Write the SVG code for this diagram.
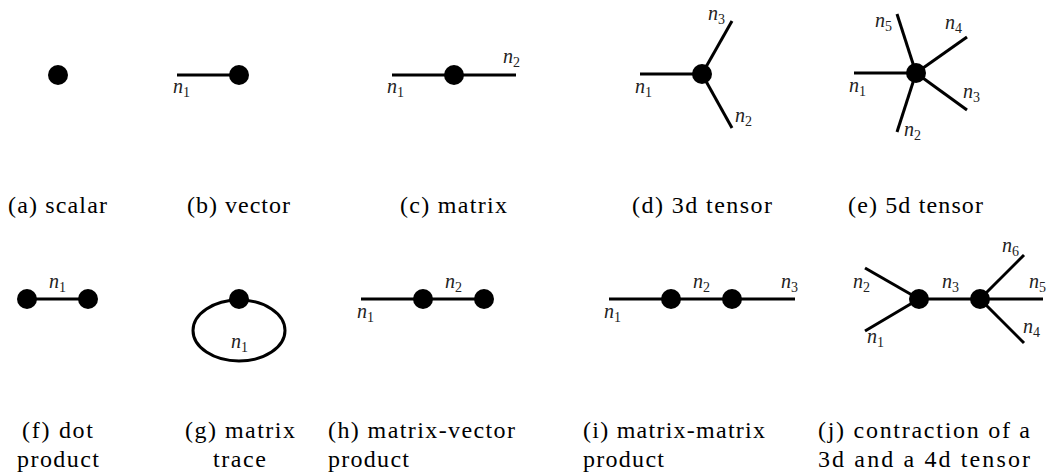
<svg xmlns="http://www.w3.org/2000/svg" width="1047" height="472" viewBox="0 0 1047 472">
<style>
.e{stroke:#000;stroke-width:3;fill:none;stroke-linecap:butt}
.d{fill:#000}
.lab{font-family:"Liberation Serif",Tinos,"Noto Serif","DejaVu Serif","Times New Roman",Times,serif;font-size:20px;font-style:italic;fill:#222}
.sub{font-size:14px;font-style:normal}
.cap{font-family:"Liberation Serif",Tinos,"Noto Serif","DejaVu Serif","Times New Roman",Times,serif;font-size:24px;fill:#000}
</style>
<rect width="1047" height="472" fill="#fff"/>
<g id="connectors">
<line class="e" x1="177" y1="75" x2="239" y2="75"/>
<line class="e" x1="392" y1="75" x2="516" y2="75"/>
<line class="e" x1="640" y1="74" x2="702" y2="74"/>
<line class="e" x1="702" y1="74" x2="732" y2="21"/>
<line class="e" x1="702" y1="74" x2="732" y2="128"/>
<line class="e" x1="854" y1="73" x2="916" y2="73"/>
<line class="e" x1="916" y1="73" x2="897" y2="14"/>
<line class="e" x1="916" y1="73" x2="967" y2="37"/>
<line class="e" x1="916" y1="73" x2="967" y2="110"/>
<line class="e" x1="916" y1="73" x2="897" y2="132"/>
<line class="e" x1="27" y1="299" x2="88" y2="299"/>
<ellipse class="e" cx="239" cy="330.5" rx="46" ry="30.5"/>
<line class="e" x1="361" y1="299" x2="484" y2="299"/>
<line class="e" x1="609" y1="299" x2="795" y2="299"/>
<line class="e" x1="865" y1="268" x2="919" y2="299"/>
<line class="e" x1="865" y1="331" x2="919" y2="299"/>
<line class="e" x1="919" y1="299" x2="1043" y2="299"/>
<line class="e" x1="980" y1="299" x2="1024" y2="255"/>
<line class="e" x1="980" y1="299" x2="1024" y2="343"/>
</g>
<g id="a-scalar"><circle class="d" cx="58" cy="75" r="10"/></g>
<g id="b-vector"><circle class="d" cx="239" cy="75" r="10"/></g>
<g id="c-matrix"><circle class="d" cx="454" cy="75" r="10"/></g>
<g id="d-tensor3"><circle class="d" cx="702" cy="74" r="10"/></g>
<g id="e-tensor5"><circle class="d" cx="916" cy="73" r="10"/></g>
<g id="f-dot-1"><circle class="d" cx="27" cy="299" r="10"/></g>
<g id="f-dot-2"><circle class="d" cx="88" cy="299" r="10"/></g>
<g id="g-trace"><circle class="d" cx="239" cy="299" r="10"/></g>
<g id="h-matrix"><circle class="d" cx="423" cy="299" r="10"/></g>
<g id="h-vector"><circle class="d" cx="484" cy="299" r="10"/></g>
<g id="i-matrix-1"><circle class="d" cx="671" cy="299" r="10"/></g>
<g id="i-matrix-2"><circle class="d" cx="732" cy="299" r="10"/></g>
<g id="j-tensor3"><circle class="d" cx="919" cy="299" r="10"/></g>
<g id="j-tensor4"><circle class="d" cx="980" cy="299" r="10"/></g>
<g id="edge-labels">
<text class="lab" x="173" y="93">n<tspan class="sub" dy="4">1</tspan></text>
<text class="lab" x="387" y="93">n<tspan class="sub" dy="4">1</tspan></text>
<text class="lab" x="503" y="63">n<tspan class="sub" dy="4">2</tspan></text>
<text class="lab" x="635" y="93">n<tspan class="sub" dy="4">1</tspan></text>
<text class="lab" x="708" y="20">n<tspan class="sub" dy="4">3</tspan></text>
<text class="lab" x="735" y="122">n<tspan class="sub" dy="4">2</tspan></text>
<text class="lab" x="849" y="92">n<tspan class="sub" dy="4">1</tspan></text>
<text class="lab" x="875" y="27">n<tspan class="sub" dy="4">5</tspan></text>
<text class="lab" x="945" y="29">n<tspan class="sub" dy="4">4</tspan></text>
<text class="lab" x="963" y="98">n<tspan class="sub" dy="4">3</tspan></text>
<text class="lab" x="904" y="136">n<tspan class="sub" dy="4">2</tspan></text>
<text class="lab" x="49" y="288">n<tspan class="sub" dy="4">1</tspan></text>
<text class="lab" x="231" y="348">n<tspan class="sub" dy="4">1</tspan></text>
<text class="lab" x="357" y="318">n<tspan class="sub" dy="4">1</tspan></text>
<text class="lab" x="445" y="288">n<tspan class="sub" dy="4">2</tspan></text>
<text class="lab" x="604" y="318">n<tspan class="sub" dy="4">1</tspan></text>
<text class="lab" x="693" y="288">n<tspan class="sub" dy="4">2</tspan></text>
<text class="lab" x="781" y="288">n<tspan class="sub" dy="4">3</tspan></text>
<text class="lab" x="853" y="288">n<tspan class="sub" dy="4">2</tspan></text>
<text class="lab" x="867" y="343">n<tspan class="sub" dy="4">1</tspan></text>
<text class="lab" x="942" y="288">n<tspan class="sub" dy="4">3</tspan></text>
<text class="lab" x="1002" y="252">n<tspan class="sub" dy="4">6</tspan></text>
<text class="lab" x="1029" y="288">n<tspan class="sub" dy="4">5</tspan></text>
<text class="lab" x="1023" y="333">n<tspan class="sub" dy="4">4</tspan></text>
</g>
<g id="captions">
<text class="cap" x="8" y="213" textLength="99" lengthAdjust="spacing">(a) scalar</text>
<text class="cap" x="187" y="213" textLength="103" lengthAdjust="spacing">(b) vector</text>
<text class="cap" x="400" y="213" textLength="107" lengthAdjust="spacing">(c) matrix</text>
<text class="cap" x="632" y="213" textLength="140" lengthAdjust="spacing">(d) 3d tensor</text>
<text class="cap" x="848" y="213" textLength="135" lengthAdjust="spacing">(e) 5d tensor</text>
<text class="cap" x="22" y="438" textLength="71" lengthAdjust="spacing">(f) dot</text>
<text class="cap" x="17" y="467" textLength="82" lengthAdjust="spacing">product</text>
<text class="cap" x="185" y="438" textLength="110" lengthAdjust="spacing">(g) matrix</text>
<text class="cap" x="213" y="467" textLength="53" lengthAdjust="spacing">trace</text>
<text class="cap" x="328" y="438" textLength="187" lengthAdjust="spacing">(h) matrix-vector</text>
<text class="cap" x="328" y="467" textLength="81" lengthAdjust="spacing">product</text>
<text class="cap" x="583" y="438" textLength="182" lengthAdjust="spacing">(i) matrix-matrix</text>
<text class="cap" x="583" y="467" textLength="81" lengthAdjust="spacing">product</text>
<text class="cap" x="818" y="438" textLength="212" lengthAdjust="spacing">(j) contraction of a</text>
<text class="cap" x="818" y="467" textLength="212" lengthAdjust="spacing">3d and a 4d tensor</text>
</g>
</svg>
